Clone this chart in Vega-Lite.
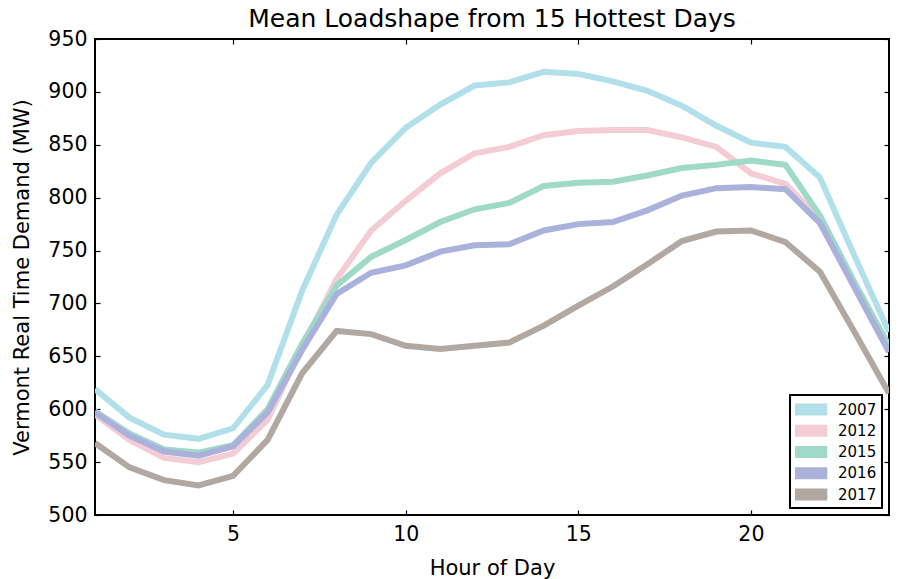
{
  "$schema": "https://vega.github.io/schema/vega-lite/v6.json",
  "width": 794,
  "height": 476,
  "autosize": {"type": "none"},
  "padding": {"left": 95, "top": 39, "right": 10, "bottom": 64},
  "background": "white",
  "config": {
    "font": "DejaVu Sans",
    "view": {"stroke": "black", "strokeWidth": 2},
    "legend": {"strokeWidth": 2},
    "axis": {"grid": false, "domain": false, "tickColor": "black", "tickSize": -5, "tickWidth": 1.2, "labelFontSize": 20.5, "labelColor": "black", "titleFontSize": 21, "titleColor": "black", "titleFontWeight": "normal", "labelFont": "DejaVu Sans", "titleFont": "DejaVu Sans"}
  },
  "title": {"text": "Mean Loadshape from 15 Hottest Days", "fontSize": 25, "fontWeight": "normal", "font": "DejaVu Sans", "color": "black", "offset": -3},
  "data": {"values": [
    {"hour":1,"year":"2007","mw":619},{"hour":2,"year":"2007","mw":592},{"hour":3,"year":"2007","mw":576},{"hour":4,"year":"2007","mw":572},{"hour":5,"year":"2007","mw":582},{"hour":6,"year":"2007","mw":623},{"hour":7,"year":"2007","mw":712},{"hour":8,"year":"2007","mw":784},{"hour":9,"year":"2007","mw":833},{"hour":10,"year":"2007","mw":866},{"hour":11,"year":"2007","mw":888},{"hour":12,"year":"2007","mw":906},{"hour":13,"year":"2007","mw":909},{"hour":14,"year":"2007","mw":919},{"hour":15,"year":"2007","mw":917},{"hour":16,"year":"2007","mw":910},{"hour":17,"year":"2007","mw":901},{"hour":18,"year":"2007","mw":887},{"hour":19,"year":"2007","mw":868},{"hour":20,"year":"2007","mw":852},{"hour":21,"year":"2007","mw":848},{"hour":22,"year":"2007","mw":819},{"hour":23,"year":"2007","mw":745},{"hour":24,"year":"2007","mw":673},
    {"hour":1,"year":"2012","mw":595},{"hour":2,"year":"2012","mw":571},{"hour":3,"year":"2012","mw":554},{"hour":4,"year":"2012","mw":550},{"hour":5,"year":"2012","mw":558},{"hour":6,"year":"2012","mw":590},{"hour":7,"year":"2012","mw":659},{"hour":8,"year":"2012","mw":723},{"hour":9,"year":"2012","mw":769},{"hour":10,"year":"2012","mw":797},{"hour":11,"year":"2012","mw":823},{"hour":12,"year":"2012","mw":842},{"hour":13,"year":"2012","mw":848},{"hour":14,"year":"2012","mw":859},{"hour":15,"year":"2012","mw":863},{"hour":16,"year":"2012","mw":864},{"hour":17,"year":"2012","mw":864},{"hour":18,"year":"2012","mw":857},{"hour":19,"year":"2012","mw":848},{"hour":20,"year":"2012","mw":823},{"hour":21,"year":"2012","mw":813},{"hour":22,"year":"2012","mw":780},{"hour":23,"year":"2012","mw":719},{"hour":24,"year":"2012","mw":659},
    {"hour":1,"year":"2015","mw":598},{"hour":2,"year":"2015","mw":577},{"hour":3,"year":"2015","mw":562},{"hour":4,"year":"2015","mw":559},{"hour":5,"year":"2015","mw":566},{"hour":6,"year":"2015","mw":600},{"hour":7,"year":"2015","mw":662},{"hour":8,"year":"2015","mw":717},{"hour":9,"year":"2015","mw":744},{"hour":10,"year":"2015","mw":760},{"hour":11,"year":"2015","mw":777},{"hour":12,"year":"2015","mw":789},{"hour":13,"year":"2015","mw":795},{"hour":14,"year":"2015","mw":811},{"hour":15,"year":"2015","mw":814},{"hour":16,"year":"2015","mw":815},{"hour":17,"year":"2015","mw":821},{"hour":18,"year":"2015","mw":828},{"hour":19,"year":"2015","mw":831},{"hour":20,"year":"2015","mw":835},{"hour":21,"year":"2015","mw":831},{"hour":22,"year":"2015","mw":783},{"hour":23,"year":"2015","mw":720},{"hour":24,"year":"2015","mw":660},
    {"hour":1,"year":"2016","mw":597},{"hour":2,"year":"2016","mw":575},{"hour":3,"year":"2016","mw":560},{"hour":4,"year":"2016","mw":556},{"hour":5,"year":"2016","mw":565},{"hour":6,"year":"2016","mw":597},{"hour":7,"year":"2016","mw":656},{"hour":8,"year":"2016","mw":709},{"hour":9,"year":"2016","mw":729},{"hour":10,"year":"2016","mw":736},{"hour":11,"year":"2016","mw":749},{"hour":12,"year":"2016","mw":755},{"hour":13,"year":"2016","mw":756},{"hour":14,"year":"2016","mw":769},{"hour":15,"year":"2016","mw":775},{"hour":16,"year":"2016","mw":777},{"hour":17,"year":"2016","mw":788},{"hour":18,"year":"2016","mw":802},{"hour":19,"year":"2016","mw":809},{"hour":20,"year":"2016","mw":810},{"hour":21,"year":"2016","mw":808},{"hour":22,"year":"2016","mw":776},{"hour":23,"year":"2016","mw":715},{"hour":24,"year":"2016","mw":654},
    {"hour":1,"year":"2017","mw":568},{"hour":2,"year":"2017","mw":545},{"hour":3,"year":"2017","mw":533},{"hour":4,"year":"2017","mw":528},{"hour":5,"year":"2017","mw":537},{"hour":6,"year":"2017","mw":571},{"hour":7,"year":"2017","mw":634},{"hour":8,"year":"2017","mw":674},{"hour":9,"year":"2017","mw":671},{"hour":10,"year":"2017","mw":660},{"hour":11,"year":"2017","mw":657},{"hour":12,"year":"2017","mw":660},{"hour":13,"year":"2017","mw":663},{"hour":14,"year":"2017","mw":679},{"hour":15,"year":"2017","mw":698},{"hour":16,"year":"2017","mw":716},{"hour":17,"year":"2017","mw":737},{"hour":18,"year":"2017","mw":759},{"hour":19,"year":"2017","mw":768},{"hour":20,"year":"2017","mw":769},{"hour":21,"year":"2017","mw":758},{"hour":22,"year":"2017","mw":730},{"hour":23,"year":"2017","mw":673},{"hour":24,"year":"2017","mw":615}
  ]},
  "resolve": {"axis": {"x": "independent", "y": "independent"}},
  "layer": [
    {
      "mark": {"type": "line", "strokeWidth": 6, "clip": true},
      "encoding": {
        "x": {"field": "hour", "type": "quantitative", "scale": {"domain": [1, 24], "nice": false, "zero": false},
              "axis": {"values": [5, 10, 15, 20], "title": "Hour of Day", "labelPadding": 14, "titlePadding": 13}},
        "y": {"field": "mw", "type": "quantitative", "scale": {"domain": [500, 950], "nice": false, "zero": false},
              "axis": {"values": [500, 550, 600, 650, 700, 750, 800, 850, 900, 950], "title": "Vermont Real Time Demand (MW)", "labelPadding": 13, "titlePadding": 15}},
        "color": {"field": "year", "type": "nominal",
                  "scale": {"range": ["#b1e0ea", "#f3ccd5", "#9fd9c8", "#aab2dc", "#b1a8a2"]},
                  "legend": null}
      }
    },
    {
      "mark": {"type": "square", "filled": true, "size": 0, "clip": true},
      "encoding": {
        "x": {"field": "hour", "type": "quantitative", "axis": {"orient": "top", "values": [5, 10, 15, 20], "labels": false, "title": null}},
        "y": {"field": "mw", "type": "quantitative", "axis": {"orient": "right", "values": [500, 550, 600, 650, 700, 750, 800, 850, 900, 950], "labels": false, "title": null}},
        "fill": {"field": "year", "type": "nominal",
                 "scale": {"domain": ["2007", "2012", "2015", "2016", "2017"], "range": ["#b1e0ea", "#f3ccd5", "#9fd9c8", "#aab2dc", "#b1a8a2"]},
                 "legend": {"title": null, "orient": "bottom-right", "offset": 7, "padding": 5, "strokeColor": "black", "fillColor": "white", "cornerRadius": 0,
                            "symbolType": "M-1.0,-0.62H2.4V0.62H-1.0Z", "symbolSize": 361, "symbolStrokeWidth": 0, "symbolOpacity": 1,
                            "labelFontSize": 15, "labelFont": "DejaVu Sans", "labelColor": "black", "rowPadding": 3.25, "labelOffset": 24}}
      }
    }
  ]
}
